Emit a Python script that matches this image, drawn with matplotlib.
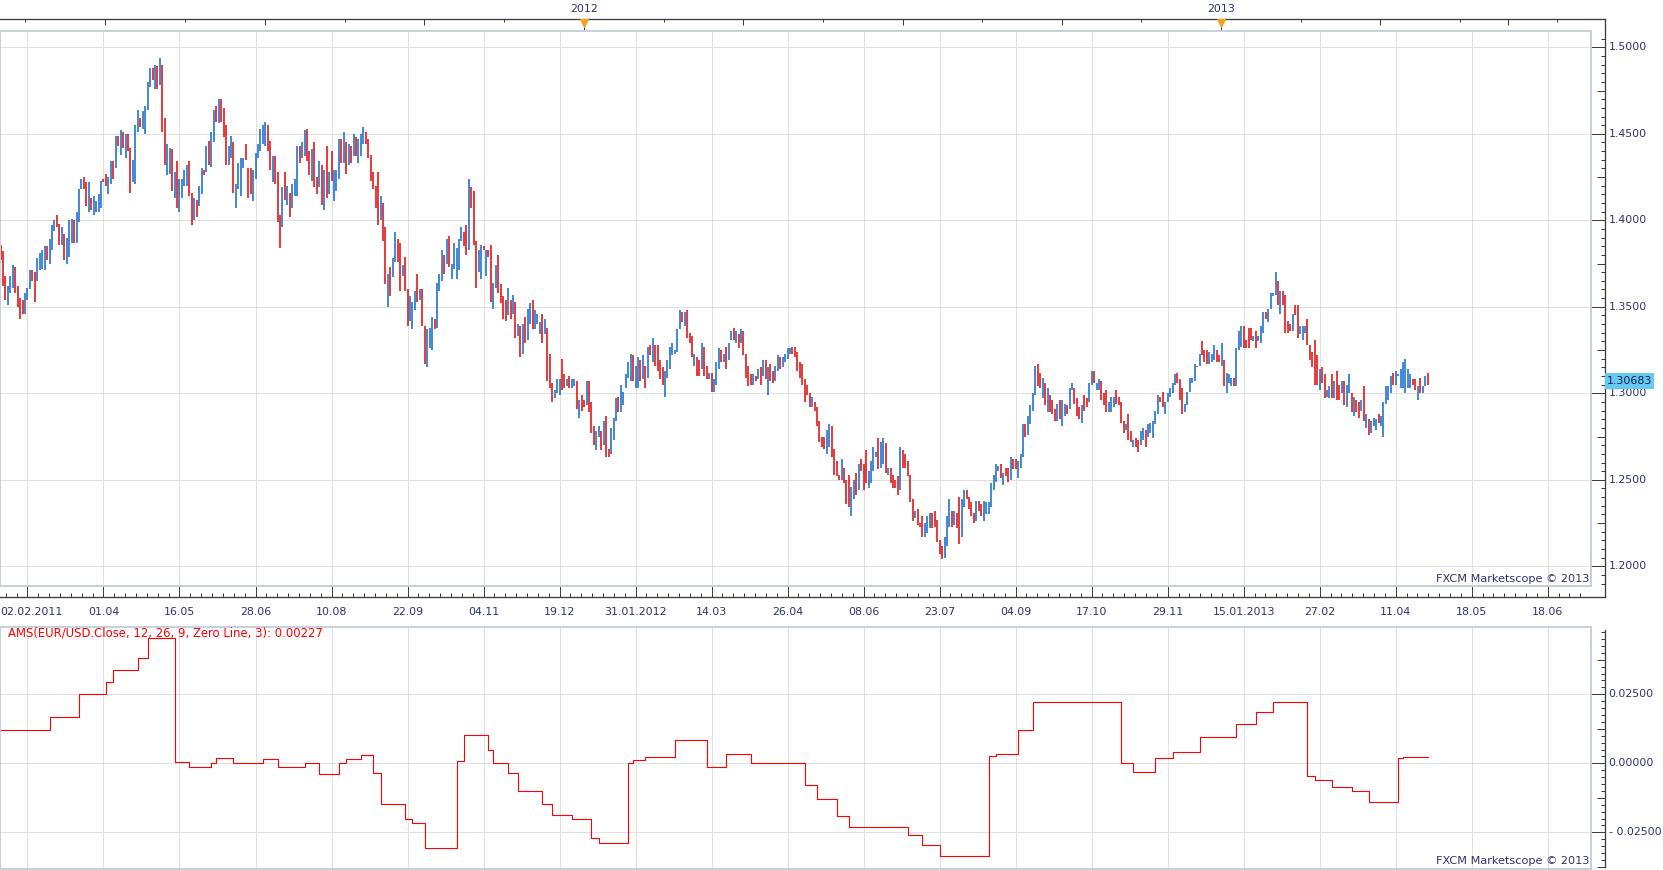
import matplotlib
matplotlib.use("Agg")
import matplotlib.pyplot as plt
from matplotlib.patches import Rectangle
import numpy as np

# ---- EUR/USD daily bars (high / low / up-down) ----
highs = [
    1.386, 1.382, 1.368, 1.362, 1.368, 1.374, 1.373, 1.362, 1.355, 1.354,
    1.358, 1.361, 1.371, 1.371, 1.370, 1.378, 1.381, 1.383, 1.385, 1.385,
    1.389, 1.397, 1.400, 1.403, 1.398, 1.396, 1.392, 1.390, 1.400, 1.401,
    1.400, 1.405, 1.418, 1.424, 1.425, 1.422, 1.422, 1.413, 1.414, 1.411,
    1.415, 1.423, 1.424, 1.427, 1.425, 1.434, 1.434, 1.449, 1.449, 1.452,
    1.451, 1.450, 1.450, 1.442, 1.435, 1.455, 1.464, 1.459, 1.463, 1.466,
    1.480, 1.488, 1.488, 1.490, 1.489, 1.494, 1.490, 1.459, 1.444, 1.442,
    1.441, 1.428, 1.434, 1.424, 1.424, 1.429, 1.432, 1.434, 1.416, 1.413,
    1.412, 1.420, 1.430, 1.429, 1.443, 1.446, 1.451, 1.464, 1.466, 1.470,
    1.470, 1.465, 1.455, 1.443, 1.449, 1.445, 1.421, 1.433, 1.436, 1.436,
    1.444, 1.430, 1.430, 1.429, 1.439, 1.444, 1.453, 1.455, 1.457, 1.455,
    1.446, 1.437, 1.437, 1.428, 1.403, 1.419, 1.428, 1.420, 1.416, 1.421,
    1.424, 1.443, 1.443, 1.445, 1.452, 1.453, 1.440, 1.441, 1.445, 1.425,
    1.434, 1.432, 1.429, 1.443, 1.428, 1.440, 1.429, 1.429, 1.447, 1.447,
    1.451, 1.445, 1.444, 1.443, 1.450, 1.448, 1.447, 1.450, 1.454, 1.451,
    1.447, 1.438, 1.428, 1.420, 1.428, 1.414, 1.410, 1.396, 1.369, 1.373,
    1.378, 1.393, 1.389, 1.387, 1.374, 1.379, 1.360, 1.356, 1.353, 1.359,
    1.369, 1.360, 1.360, 1.339, 1.337, 1.338, 1.344, 1.343, 1.364, 1.369,
    1.383, 1.380, 1.389, 1.391, 1.375, 1.387, 1.384, 1.389, 1.396, 1.393,
    1.397, 1.424, 1.419, 1.417, 1.388, 1.383, 1.386, 1.385, 1.383, 1.383,
    1.386, 1.364, 1.374, 1.380, 1.363, 1.356, 1.354, 1.361, 1.354, 1.357,
    1.353, 1.340, 1.339, 1.340, 1.344, 1.349, 1.352, 1.354, 1.348, 1.346,
    1.341, 1.346, 1.343, 1.338, 1.323, 1.306, 1.302, 1.308, 1.308, 1.320,
    1.311, 1.308, 1.310, 1.308, 1.308, 1.307, 1.296, 1.299, 1.296, 1.307,
    1.307, 1.295, 1.281, 1.278, 1.281, 1.278, 1.284, 1.287, 1.268, 1.280,
    1.286, 1.297, 1.298, 1.305, 1.301, 1.311, 1.318, 1.323, 1.322, 1.316,
    1.321, 1.319, 1.322, 1.316, 1.327, 1.328, 1.332, 1.328, 1.328, 1.319,
    1.315, 1.313, 1.319, 1.327, 1.329, 1.325, 1.337, 1.348, 1.347, 1.347,
    1.348, 1.335, 1.333, 1.323, 1.321, 1.319, 1.329, 1.327, 1.316, 1.312,
    1.312, 1.308, 1.318, 1.326, 1.325, 1.323, 1.327, 1.329, 1.336, 1.338,
    1.336, 1.334, 1.337, 1.336, 1.323, 1.316, 1.311, 1.311, 1.310, 1.314,
    1.315, 1.319, 1.319, 1.315, 1.317, 1.313, 1.316, 1.322, 1.321, 1.321,
    1.323, 1.326, 1.326, 1.327, 1.327, 1.324, 1.318, 1.317, 1.308, 1.305,
    1.300, 1.298, 1.295, 1.292, 1.284, 1.275, 1.275, 1.279, 1.282, 1.281,
    1.268, 1.261, 1.253, 1.262, 1.257, 1.250, 1.253, 1.246, 1.250, 1.254,
    1.259, 1.262, 1.259, 1.267, 1.255, 1.261, 1.269, 1.266, 1.274, 1.272,
    1.274, 1.271, 1.257, 1.257, 1.253, 1.250, 1.252, 1.269, 1.267, 1.265,
    1.261, 1.253, 1.239, 1.232, 1.233, 1.225, 1.229, 1.225, 1.229, 1.231,
    1.231, 1.232, 1.227, 1.215, 1.212, 1.217, 1.229, 1.239, 1.232, 1.232,
    1.231, 1.240, 1.239, 1.244, 1.244, 1.240, 1.237, 1.231, 1.238, 1.238,
    1.236, 1.238, 1.237, 1.237, 1.248, 1.253, 1.259, 1.258, 1.259, 1.254,
    1.257, 1.257, 1.263, 1.262, 1.262, 1.261, 1.265, 1.282, 1.282, 1.287,
    1.293, 1.300, 1.316, 1.317, 1.312, 1.309, 1.306, 1.303, 1.299, 1.296,
    1.291, 1.294, 1.296, 1.296, 1.294, 1.293, 1.303, 1.306, 1.303, 1.297,
    1.292, 1.293, 1.299, 1.297, 1.306, 1.313, 1.313, 1.306, 1.308, 1.307,
    1.300, 1.302, 1.295, 1.298, 1.298, 1.302, 1.298, 1.295, 1.284, 1.282,
    1.288, 1.278, 1.273, 1.274, 1.273, 1.278, 1.280, 1.279, 1.282, 1.283,
    1.284, 1.290, 1.299, 1.298, 1.301, 1.295, 1.300, 1.303, 1.306, 1.311,
    1.312, 1.308, 1.303, 1.294, 1.301, 1.309, 1.309, 1.317, 1.316, 1.323,
    1.330, 1.325, 1.325, 1.324, 1.323, 1.328, 1.325, 1.322, 1.329, 1.319,
    1.312, 1.311, 1.309, 1.309, 1.326, 1.336, 1.339, 1.339, 1.331, 1.338,
    1.338, 1.333, 1.336, 1.333, 1.339, 1.347, 1.347, 1.349, 1.358, 1.358,
    1.370, 1.365, 1.359, 1.359, 1.357, 1.342, 1.340, 1.346, 1.351, 1.351,
    1.339, 1.339, 1.339, 1.343, 1.328, 1.324, 1.331, 1.322, 1.314, 1.315,
    1.311, 1.302, 1.304, 1.311, 1.307, 1.313, 1.305, 1.307, 1.307, 1.305,
    1.311, 1.300, 1.298, 1.296, 1.295, 1.296, 1.304, 1.288, 1.285, 1.284,
    1.286, 1.285, 1.288, 1.287, 1.295, 1.304, 1.304, 1.310, 1.312, 1.313,
    1.311, 1.314, 1.318, 1.320, 1.314, 1.311, 1.308, 1.308, 1.304, 1.309,
    1.304, 1.310, 1.312,
]
lows = [
    1.377, 1.362, 1.354, 1.351, 1.358, 1.361, 1.358, 1.350, 1.343, 1.346,
    1.346, 1.354, 1.360, 1.365, 1.353, 1.365, 1.371, 1.372, 1.371, 1.377,
    1.375, 1.383, 1.394, 1.396, 1.386, 1.386, 1.377, 1.375, 1.379, 1.387,
    1.387, 1.387, 1.399, 1.418, 1.418, 1.408, 1.405, 1.406, 1.403, 1.405,
    1.405, 1.407, 1.422, 1.420, 1.415, 1.421, 1.424, 1.430, 1.443, 1.438,
    1.442, 1.436, 1.440, 1.416, 1.422, 1.421, 1.451, 1.454, 1.453, 1.450,
    1.464, 1.477, 1.481, 1.476, 1.476, 1.478, 1.451, 1.432, 1.426, 1.427,
    1.417, 1.413, 1.407, 1.405, 1.413, 1.420, 1.420, 1.414, 1.397, 1.400,
    1.402, 1.408, 1.415, 1.426, 1.428, 1.432, 1.431, 1.445, 1.457, 1.456,
    1.457, 1.448, 1.432, 1.432, 1.436, 1.416, 1.407, 1.418, 1.414, 1.430,
    1.435, 1.413, 1.415, 1.411, 1.424, 1.436, 1.440, 1.444, 1.443, 1.440,
    1.429, 1.422, 1.421, 1.399, 1.384, 1.396, 1.412, 1.409, 1.402, 1.407,
    1.414, 1.414, 1.433, 1.436, 1.437, 1.434, 1.426, 1.423, 1.419, 1.415,
    1.419, 1.409, 1.406, 1.413, 1.415, 1.423, 1.411, 1.417, 1.424, 1.433,
    1.433, 1.427, 1.432, 1.433, 1.437, 1.437, 1.433, 1.437, 1.444, 1.444,
    1.436, 1.423, 1.418, 1.407, 1.397, 1.400, 1.388, 1.363, 1.350, 1.356,
    1.367, 1.376, 1.376, 1.359, 1.368, 1.359, 1.339, 1.342, 1.337, 1.348,
    1.353, 1.354, 1.339, 1.317, 1.315, 1.326, 1.325, 1.337, 1.338, 1.359,
    1.365, 1.369, 1.375, 1.373, 1.366, 1.372, 1.366, 1.371, 1.388, 1.385,
    1.380, 1.383, 1.407, 1.386, 1.361, 1.370, 1.366, 1.383, 1.368, 1.379,
    1.353, 1.349, 1.361, 1.358, 1.352, 1.343, 1.342, 1.345, 1.343, 1.346,
    1.332, 1.333, 1.321, 1.323, 1.329, 1.331, 1.340, 1.337, 1.337, 1.340,
    1.334, 1.329, 1.334, 1.307, 1.303, 1.295, 1.297, 1.300, 1.299, 1.302,
    1.303, 1.304, 1.303, 1.303, 1.304, 1.291, 1.286, 1.290, 1.292, 1.293,
    1.289, 1.277, 1.270, 1.267, 1.275, 1.267, 1.270, 1.263, 1.263, 1.265,
    1.273, 1.284, 1.289, 1.289, 1.293, 1.303, 1.309, 1.307, 1.307, 1.303,
    1.303, 1.307, 1.308, 1.303, 1.309, 1.322, 1.318, 1.316, 1.313, 1.308,
    1.305, 1.298, 1.309, 1.314, 1.322, 1.323, 1.324, 1.337, 1.341, 1.339,
    1.332, 1.329, 1.321, 1.316, 1.310, 1.310, 1.314, 1.310, 1.308, 1.308,
    1.301, 1.301, 1.305, 1.314, 1.318, 1.318, 1.314, 1.319, 1.331, 1.331,
    1.329, 1.326, 1.329, 1.322, 1.309, 1.304, 1.305, 1.305, 1.307, 1.308,
    1.305, 1.310, 1.308, 1.299, 1.307, 1.306, 1.307, 1.313, 1.314, 1.315,
    1.318, 1.320, 1.323, 1.323, 1.321, 1.313, 1.309, 1.305, 1.295, 1.299,
    1.292, 1.292, 1.290, 1.281, 1.272, 1.269, 1.268, 1.265, 1.269, 1.263,
    1.253, 1.252, 1.250, 1.250, 1.248, 1.236, 1.234, 1.229, 1.239, 1.241,
    1.244, 1.255, 1.244, 1.248, 1.245, 1.248, 1.255, 1.263, 1.256, 1.257,
    1.259, 1.254, 1.253, 1.248, 1.245, 1.245, 1.241, 1.244, 1.257, 1.257,
    1.252, 1.237, 1.226, 1.228, 1.224, 1.223, 1.217, 1.217, 1.219, 1.222,
    1.222, 1.223, 1.214, 1.207, 1.204, 1.205, 1.212, 1.223, 1.223, 1.224,
    1.222, 1.213, 1.217, 1.234, 1.239, 1.233, 1.229, 1.225, 1.226, 1.232,
    1.229, 1.226, 1.230, 1.230, 1.234, 1.244, 1.249, 1.255, 1.251, 1.247,
    1.252, 1.249, 1.250, 1.256, 1.256, 1.251, 1.257, 1.263, 1.275, 1.276,
    1.282, 1.290, 1.299, 1.304, 1.303, 1.297, 1.293, 1.289, 1.289, 1.288,
    1.284, 1.284, 1.285, 1.281, 1.287, 1.288, 1.291, 1.302, 1.294, 1.287,
    1.285, 1.283, 1.290, 1.292, 1.295, 1.305, 1.306, 1.302, 1.302, 1.296,
    1.293, 1.289, 1.289, 1.289, 1.292, 1.294, 1.293, 1.283, 1.277, 1.279,
    1.273, 1.272, 1.269, 1.269, 1.266, 1.270, 1.273, 1.269, 1.275, 1.277,
    1.274, 1.282, 1.288, 1.295, 1.292, 1.288, 1.295, 1.298, 1.300, 1.305,
    1.306, 1.296, 1.288, 1.289, 1.293, 1.301, 1.306, 1.307, 1.315, 1.316,
    1.322, 1.318, 1.317, 1.317, 1.318, 1.319, 1.318, 1.318, 1.316, 1.304,
    1.300, 1.306, 1.304, 1.304, 1.304, 1.325, 1.327, 1.326, 1.326, 1.326,
    1.331, 1.330, 1.326, 1.330, 1.329, 1.335, 1.343, 1.341, 1.349, 1.356,
    1.357, 1.351, 1.346, 1.351, 1.335, 1.335, 1.336, 1.336, 1.345, 1.332,
    1.334, 1.331, 1.335, 1.328, 1.319, 1.315, 1.305, 1.305, 1.302, 1.306,
    1.297, 1.298, 1.297, 1.297, 1.297, 1.296, 1.296, 1.300, 1.293, 1.292,
    1.300, 1.289, 1.287, 1.289, 1.286, 1.290, 1.284, 1.280, 1.276, 1.277,
    1.281, 1.279, 1.283, 1.281, 1.275, 1.294, 1.296, 1.300, 1.305, 1.305,
    1.310, 1.303, 1.303, 1.300, 1.303, 1.303, 1.305, 1.302, 1.296, 1.300,
    1.300, 1.304, 1.305,
]
# u = bullish (blue), d = bearish (red)
dirs = "".join([
    "ddduuudddd", "uuudduuuud", "uuudduduuu", "duuudduduu", "uudduududu",
    "dudduuuduu", "uudududduu", "duduuuuddu", "duududuudu", "ddduuduuuu",
    "ddduuuuuud", "dudddududu", "uuduuddudd", "udududuuud", "udududuuud",
    "ddddduddud", "uuddudduuu", "dudduuuduu", "ududuuuuud", "duddduudud",
    "duuddddudu", "dududuuduu", "ududdduuud", "duduududdu", "ddduududdu",
    "uuduuuuudu", "ududududdd", "duuuuuuudu", "dddudduddu", "duuududuud",
    "ududdddudu", "dududduudu", "uuuddddddd", "duddddduud", "ddduddduud",
    "uddduuuudu", "ududdddudd", "ddduddduuu", "ddddduuudu", "dduuddddud",
    "duuuuuuudu", "ddudduuudu", "uuuddududd", "duduuduudd", "dudduuduud",
    "dduuuddddu", "ddudduuduu", "uuudduuuuu", "ddduuuuudu", "ddduuuddud",
    "uuuduuuddd", "duduuuduuu", "ududdddudd", "uuudddddud", "duududdudu",
    "ududdududu", "uuduuuuudu", "uuuuuudduduud",
])

# AMS indicator: step values (bar where a level starts, level)
ams_bars = [0, 20, 32, 43, 46, 56, 60, 71, 77, 86, 88, 95, 107, 113, 124, 130,
            138, 141, 147, 152, 155, 165, 168, 173, 186, 189, 199, 201, 207, 211,
            221, 225, 233, 241, 244, 256, 258, 263, 275, 288, 296, 306, 328, 333,
            341, 346, 370, 376, 383, 403, 406, 415, 421, 457, 462, 471, 478, 489,
            504, 512, 519, 533, 536, 543, 551, 558, 570, 572]
ams_vals = [0.0119, 0.0169, 0.0250, 0.0293, 0.0339, 0.0380, 0.0454, 0.0004,
            -0.0015, 0.0000, 0.0019, 0.0000, 0.0015, -0.0015, 0.0000, -0.0039,
            0.0000, 0.0015, 0.0030, -0.0035, -0.0146, -0.0200, -0.0216, -0.0308,
            0.0010, 0.0104, 0.0050, 0.0000, -0.0035, -0.0100, -0.0146, -0.0189,
            -0.0200, -0.0270, -0.0290, 0.0000, 0.0012, 0.0023, 0.0085, -0.0015,
            0.0035, 0.0000, -0.0080, -0.0130, -0.0190, -0.0230, -0.0260, -0.0297,
            -0.0335, 0.0027, 0.0035, 0.0119, 0.0223, 0.0000, -0.0030, 0.0020,
            0.0040, 0.0096, 0.0142, 0.0185, 0.0223, -0.0046, -0.0060, -0.0085,
            -0.0100, -0.0139, 0.0020, 0.00227]
ams_label = "AMS(EUR/USD.Close, 12, 26, 9, Zero Line, 3): 0.00227"
last_price = 1.30683

# date axis: one label every 31 bars starting at bar 11
date_labels = ["02.02.2011", "01.04", "16.05", "28.06", "10.08", "22.09", "04.11",
               "19.12", "31.01.2012", "14.03", "26.04", "08.06", "23.07", "04.09",
               "17.10", "29.11", "15.01.2013", "27.02", "11.04", "18.05", "18.06"]
date_pos = [11 + 31 * k for k in range(len(date_labels))]
# top calendar ticks (bar positions), long = quarter starts, years marked
top_short = [9.9, 75.1, 140.3, 205.5, 270.6, 335.5, 400.4, 465.3, 530.3, 595.2, 634.7]
top_long = [42.5, 107.7, 172.9, 303.0, 368.0, 432.9, 562.7, 615.0]
year_pos = [238.1, 497.8]
year_txt = ["2012", "2013"]

price_grid = [1.20, 1.25, 1.30, 1.35, 1.40, 1.45, 1.50]
ams_grid = [-0.025, 0.0, 0.025]

# ---- layout (pixels of the 1663x870 picture) ----
W, H = 1663, 870
FRAME_R, AXIS_X = 1591.0, 1605.0
M_TOP, M_BOT = 30.7, 586.0
I_TOP, I_BOT = 626.7, 868.5
TOP_Y, DATE_Y = 18.7, 597.3
BAR_X0, BAR_DX = 0.5, 2.452

BLUE, RED = "#0a64c8", "#e00000"
GRID, FRAME, AXC, TXT = "#e1e1e1", "#c7d1de", "#3c3c3c", "#2b336e"
FS = 11.0

plt.rcParams["font.family"] = ["DejaVu Sans"]
fig = plt.figure(figsize=(W / 72, H / 72), dpi=72)
fig.patch.set_facecolor("white")

ax = fig.add_axes([0, 1 - M_BOT / H, FRAME_R / W, (M_BOT - M_TOP) / H])
ax2 = fig.add_axes([0, 1 - I_BOT / H, FRAME_R / W, (I_BOT - I_TOP) / H])

xlim = (-BAR_X0 / BAR_DX, (FRAME_R - BAR_X0) / BAR_DX)
m_per = 86.5 / 0.05       # px per price unit
i_per = 69.0 / 0.025      # px per indicator unit
ax.set_xlim(*xlim)
ax.set_ylim(1.5 - (M_BOT - 47.3) / m_per, 1.5 + (47.3 - M_TOP) / m_per)
ax2.set_xlim(*xlim)
ax2.set_ylim(-(I_BOT - 763.3) / i_per, (763.3 - I_TOP) / i_per)


def xa(px):
    return px / FRAME_R


def ya(py, top, bot):
    return (bot - py) / (bot - top)


for a in (ax, ax2):
    for s in a.spines.values():
        s.set_visible(False)
    a.set_xticks([])
    a.set_yticks([])
    a.add_patch(Rectangle((0, 0), 1, 1, transform=a.transAxes, fill=False,
                          ec=FRAME, lw=2, clip_on=False, zorder=6))
    for p in date_pos:
        a.axvline(p, color=GRID, lw=1, zorder=0)
for v in price_grid:
    ax.axhline(v, color=GRID, lw=1, zorder=0)
for v in ams_grid:
    ax2.axhline(v, color=GRID, lw=1, zorder=0)

# ---- price bars ----
n = min(len(highs), len(lows), len(dirs))
x = np.arange(n)
hi = np.array(highs[:n])
lo = np.array(lows[:n])
up = np.array([c == "u" for c in dirs[:n]])
ax.vlines(x[up], lo[up], hi[up], colors=BLUE, lw=1.5, zorder=3)
ax.vlines(x[~up], lo[~up], hi[~up], colors=RED, lw=1.5, zorder=3)

# ---- indicator ----
sx = np.r_[ams_bars, n - 1]
sy = np.r_[ams_vals, ams_vals[-1]]
ax2.step(sx, sy, where="post", color="#ff0000", lw=1.1, zorder=3)


# ---- right axes with ticks ----
def right_axis(a, top, bot, y0, y1, majors, mediums, minors, fmt):
    tr = a.get_yaxis_transform()
    a.plot([xa(AXIS_X)] * 2, [ya(y0, top, bot), ya(y1, top, bot)],
           transform=a.transAxes, color=AXC, lw=1.3, clip_on=False)
    a.hlines(majors, xa(FRAME_R), xa(AXIS_X), transform=tr, colors=AXC, lw=1, clip_on=False)
    a.hlines(mediums, xa(AXIS_X - 8), xa(AXIS_X), transform=tr, colors=AXC, lw=1, clip_on=False)
    a.hlines(minors, xa(AXIS_X - 4.5), xa(AXIS_X), transform=tr, colors=AXC, lw=1, clip_on=False)
    for v in majors:
        a.text(xa(1608.5), v, fmt(v), transform=tr, ha="left", va="center",
               fontsize=FS, color=TXT, clip_on=False)


def split_ticks(lo_v, hi_v, step, major, medium):
    vals = np.round(np.arange(lo_v, hi_v + step / 2, step), 6)
    ma = [v for v in vals if abs(v / major - round(v / major)) < 1e-6]
    me = [v for v in vals if v not in ma and abs(v / medium - round(v / medium)) < 1e-6]
    mi = [v for v in vals if v not in ma and v not in me]
    return ma, me, mi


yl = ax.get_ylim()
ma, me, mi = split_ticks(1.19, 1.505, 0.005, 0.05, 0.025)
ma = [v for v in ma if yl[0] <= v <= yl[1]]
right_axis(ax, M_TOP, M_BOT, TOP_Y, DATE_Y, ma, me, mi, lambda v: f"{v:.4f}")

ma2, me2, mi2 = split_ticks(-0.0375, 0.0475, 0.0025, 0.025, 0.0125)
right_axis(ax2, I_TOP, I_BOT, 630, 866.7, ma2, me2, mi2,
           lambda v: f"{v:.5f}" if v >= -1e-9 else f"- {abs(v):.5f}")

# ---- bottom date axis ----
xt = ax.get_xaxis_transform()
ax.plot([0, xa(AXIS_X)], [ya(DATE_Y, M_TOP, M_BOT)] * 2, transform=ax.transAxes,
        color=AXC, lw=1.3, clip_on=False)
ax.vlines(date_pos, ya(DATE_Y, M_TOP, M_BOT), ya(M_BOT, M_TOP, M_BOT), transform=xt,
          colors=AXC, lw=1, clip_on=False)
minor_x = [p + j * 31 / 7 for p in [date_pos[0] - 31] + date_pos for j in range(1, 7)]
minor_x = [p for p in minor_x if xlim[0] < p < xlim[1]]
ax.vlines(minor_x, ya(DATE_Y, M_TOP, M_BOT), ya(DATE_Y - 4, M_TOP, M_BOT), transform=xt,
          colors=AXC, lw=1, clip_on=False)
for i, (p, lab) in enumerate(zip(date_pos, date_labels)):
    if i == 0:
        ax.text(xa(0.5), ya(612, M_TOP, M_BOT), lab, transform=ax.transAxes,
                ha="left", va="center", fontsize=FS, color=TXT, clip_on=False)
    else:
        ax.text(p, ya(612, M_TOP, M_BOT), lab, transform=xt, ha="center", va="center",
                fontsize=FS, color=TXT, clip_on=False)

# ---- top calendar axis ----
ax.plot([0, xa(AXIS_X)], [ya(TOP_Y, M_TOP, M_BOT)] * 2, transform=ax.transAxes,
        color=AXC, lw=1.3, clip_on=False)
ax.vlines(top_short, ya(TOP_Y, M_TOP, M_BOT), ya(TOP_Y + 3.5, M_TOP, M_BOT), transform=xt,
          colors=AXC, lw=1, clip_on=False)
ax.vlines(top_long, ya(TOP_Y, M_TOP, M_BOT), ya(TOP_Y + 6, M_TOP, M_BOT), transform=xt,
          colors=AXC, lw=1, clip_on=False)
ax.vlines(year_pos, ya(TOP_Y, M_TOP, M_BOT), ya(TOP_Y + 11, M_TOP, M_BOT), transform=xt,
          colors=AXC, lw=1, clip_on=False)
ax.plot(year_pos, [ya(TOP_Y + 4.3, M_TOP, M_BOT)] * len(year_pos), ls="none", marker="v",
        ms=8.5, color="#f7a11a", mec="#f7a11a", transform=xt, clip_on=False, zorder=7)
for p, t in zip(year_pos, year_txt):
    ax.text(p, ya(8.5, M_TOP, M_BOT), t, transform=xt, ha="center", va="center",
            fontsize=FS, color=TXT, clip_on=False)

# ---- last price marker ----
yt = ax.get_yaxis_transform()
ax.add_patch(Rectangle((xa(AXIS_X), last_price - 8 / m_per), xa(49), 16 / m_per,
                       transform=yt, fc="#66c9f2", ec="none", clip_on=False, zorder=7))
ax.text(xa(AXIS_X + 2), last_price, f"{last_price:.5f}", transform=yt, ha="left",
        va="center", fontsize=FS, color="#15204a", clip_on=False, zorder=8)

# ---- captions ----
ax.text(xa(1589), ya(581.5, M_TOP, M_BOT), "FXCM Marketscope © 2013", transform=ax.transAxes,
        ha="right", va="baseline", fontsize=11.3, color=TXT, zorder=7)
ax2.text(xa(1589), ya(864.5, I_TOP, I_BOT), "FXCM Marketscope © 2013", transform=ax2.transAxes,
         ha="right", va="baseline", fontsize=11.3, color=TXT, zorder=7)
ax2.text(xa(8.5), ya(633, I_TOP, I_BOT), ams_label, transform=ax2.transAxes,
         ha="left", va="center", fontsize=11.6, color="#ff0000", zorder=7)

fig.savefig("out.png", dpi=72, facecolor="white")
